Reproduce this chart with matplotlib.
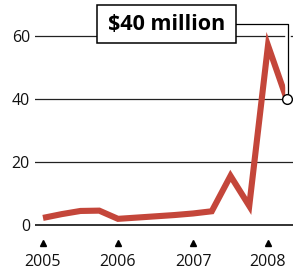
import matplotlib
matplotlib.use("Agg")
import matplotlib.pyplot as plt
from matplotlib.patches import Rectangle
import matplotlib.patheffects as pe

# Data (quarterly, millions of dollars)
quarters = [2005.0, 2005.25, 2005.5, 2005.75, 2006.0, 2006.25, 2006.5, 2006.75,
            2007.0, 2007.25, 2007.5, 2007.75, 2008.0, 2008.25]
values = [2.4, 3.6, 4.6, 4.7, 2.1, 2.5, 2.9, 3.3, 3.8, 4.5, 15.7, 6.2, 57.0, 40.0]
year_ticks = [2005, 2006, 2007, 2008]
year_labels = ["2005", "2006", "2007", "2008"]
y_ticks = [0, 20, 40, 60]
callout = "$40 million"

W, H = 293, 270
fig = plt.figure(figsize=(W / 100, H / 100), dpi=100)
plt.rcParams['font.family'] = ['Open Sans', 'DejaVu Sans']

# pixel geometry
px_left, px_right = 35, 293
px_top, px_bottom = 4.4, 231.8
ax = fig.add_axes([px_left / W, 1 - px_bottom / H, (px_right - px_left) / W, (px_bottom - px_top) / H])
ax.set_xlim(2005 - 8 / 75, 2005 + 250 / 75)
ax.set_ylim(-2, 70)
for s in ax.spines.values():
    s.set_visible(False)
ax.set_xticks([])
ax.set_yticks(y_ticks)
ax.set_yticklabels([str(v) for v in y_ticks], fontsize=11.5, color='#111111')
ax.tick_params(axis='y', length=0, pad=3.6)

for v in y_ticks:
    ax.axhline(v, color='#222222', lw=1.3 if v == 0 else 0.9, zorder=1)

ax.plot(quarters, values, color='#C4463A', lw=4.4, solid_joinstyle='miter',
        solid_capstyle='butt', zorder=3, clip_on=False)

# year ticks
ax.plot(year_ticks, [-5.5] * len(year_ticks), '^', color='black', ms=5, clip_on=False)
for x, lab in zip(year_ticks, year_labels):
    ax.text(x, -11.7, lab, ha='center', va='center', fontsize=11.5, color='#111111', clip_on=False)

# callout connector
x_last, y_last = quarters[-1], values[-1]
trans = ax.transData
x_conn_px = trans.transform((x_last, 0))[0] + 1.5
y_box_px = H - 24
inv = ax.transData.inverted()
x_conn = inv.transform((x_conn_px, 0))[0]
y_conn = inv.transform((0, y_box_px))[1]
box_l, box_r, box_t, box_b = 97, 236, 5, 43
x_box_r = inv.transform((box_r, 0))[0]
ax.plot([x_box_r, x_conn, x_conn], [y_conn, y_conn, y_last], color='black', lw=0.9,
        clip_on=False, zorder=4,
        path_effects=[pe.Stroke(linewidth=4, foreground='white'), pe.Normal()])
ax.plot([x_last], [y_last], 'o', ms=7, mfc='white', mec='black', mew=1.0, clip_on=False, zorder=5)

# callout box
rect = Rectangle((box_l / W, 1 - box_b / H), (box_r - box_l) / W, (box_b - box_t) / H,
                 transform=fig.transFigure, facecolor='white', edgecolor='black', lw=1.1, zorder=6)
fig.patches.append(rect)
fig.text((box_l + box_r) / 2 / W, 1 - (box_t + box_b) / 2 / H, callout, ha='center', va='center',
         fontsize=15.5, fontweight='bold', color='black', zorder=7)

fig.savefig('out.png', dpi=100)
